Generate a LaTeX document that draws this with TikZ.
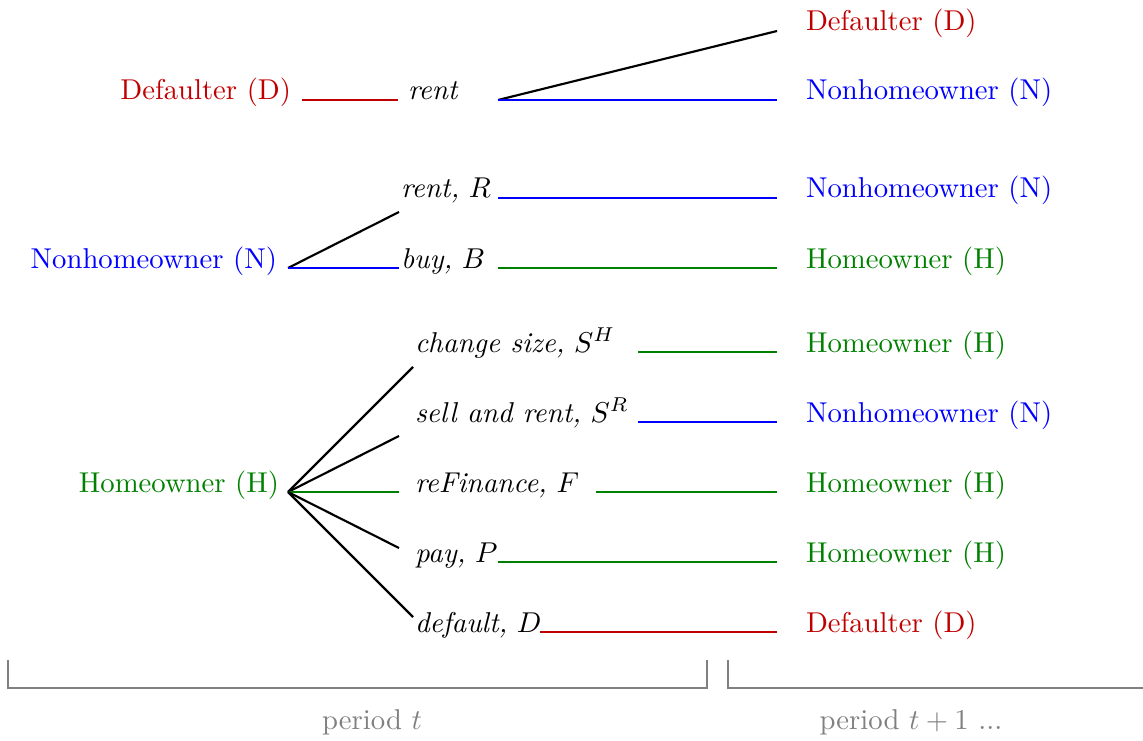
\documentclass[tikz,border=0pt]{standalone}
\definecolor{dred}{RGB}{192,0,0}
\definecolor{dblue}{RGB}{0,0,255}
\definecolor{dgreen}{RGB}{0,128,0}
\definecolor{dgray}{RGB}{128,128,128}
\begin{document}
\begin{tikzpicture}[x=0.3486pt,y=-0.3486pt,
  lbl/.style={inner sep=0pt, outer sep=0pt},
  lw/.style={lbl, anchor=base west},
  le/.style={lbl, anchor=base east},
  lnk/.style={line width=0.75pt},
  brk/.style={line width=0.75pt, dgray},
  per/.style={lbl, anchor=base, text=dgray}]
\useasboundingbox (0,0) rectangle (1143,740);

% ---------- Defaulter row ----------
\node[le, text=dred] (D0) at (291,100) {Defaulter (D)};
\coordinate (D0a) at (302,100);
\coordinate (D0b) at (398,100);
\node[lw] (rent0) at (408,100) {\textit{rent}};
\coordinate (rent0o) at (498,100);
\coordinate (D0e1) at (777,31);
\coordinate (D0e2) at (777,100);
\node[lw, text=dred] (D1a) at (806,31) {Defaulter (D)};
\node[lw, text=dblue] (N1a) at (806,100) {Nonhomeowner (N)};
\draw[lnk, dred] (D0a) -- (D0b);
\draw[lnk] (rent0o) -- (D0e1);
\draw[lnk, dblue] (rent0o) -- (D0e2);

% ---------- Nonhomeowner row ----------
\node[le, text=dblue] (N0) at (277,268) {Nonhomeowner (N)};
\coordinate (N0o) at (288,268);
\coordinate (N0r) at (399,212);
\coordinate (N0b) at (399,268);
\node[lw] (rentR) at (401,198) {\textit{rent,} $R$};
\node[lw] (buyB) at (401,268) {\textit{buy,} $B$};
\coordinate (rentRa) at (498,198);
\coordinate (rentRb) at (777,198);
\coordinate (buyBa) at (498,268);
\coordinate (buyBb) at (777,268);
\node[lw, text=dblue] (N1b) at (806,198) {Nonhomeowner (N)};
\node[lw, text=dgreen] (H1a) at (806,268) {Homeowner (H)};
\draw[lnk] (N0o) -- (N0r);
\draw[lnk, dblue] (N0o) -- (N0b);
\draw[lnk, dblue] (rentRa) -- (rentRb);
\draw[lnk, dgreen] (buyBa) -- (buyBb);

% ---------- Homeowner row ----------
\node[le, text=dgreen] (H0) at (279,492) {Homeowner (H)};
\coordinate (H0o) at (288,492);
\coordinate (H0s) at (413,367);
\coordinate (H0r) at (399,436);
\coordinate (H0f) at (399,492);
\coordinate (H0p) at (399,548);
\coordinate (H0d) at (413,617);
\node[lw] (SH) at (415,352) {\textit{change size,} $S^H$};
\node[lw] (SR) at (415,422) {\textit{sell and rent,} $S^R$};
\node[lw] (FF) at (415,492) {\textit{reFinance,} $F$};
\node[lw] (PP) at (415,562) {\textit{pay,} $P$};
\node[lw] (DD) at (415,632) {\textit{default,} $D$};
\coordinate (SHa) at (638,352); \coordinate (SHb) at (777,352);
\coordinate (SRa) at (638,422); \coordinate (SRb) at (777,422);
\coordinate (FFa) at (596,492); \coordinate (FFb) at (777,492);
\coordinate (PPa) at (498,562); \coordinate (PPb) at (777,562);
\coordinate (DDa) at (540,632); \coordinate (DDb) at (777,632);
\node[lw, text=dgreen] (H1b) at (806,352) {Homeowner (H)};
\node[lw, text=dblue] (N1c) at (806,422) {Nonhomeowner (N)};
\node[lw, text=dgreen] (H1c) at (806,492) {Homeowner (H)};
\node[lw, text=dgreen] (H1d) at (806,562) {Homeowner (H)};
\node[lw, text=dred] (D1b) at (806,632) {Defaulter (D)};
\draw[lnk] (H0o) -- (H0s);
\draw[lnk] (H0o) -- (H0r);
\draw[lnk, dgreen] (H0o) -- (H0f);
\draw[lnk] (H0o) -- (H0p);
\draw[lnk] (H0o) -- (H0d);
\draw[lnk, dgreen] (SHa) -- (SHb);
\draw[lnk, dblue] (SRa) -- (SRb);
\draw[lnk, dgreen] (FFa) -- (FFb);
\draw[lnk, dgreen] (PPa) -- (PPb);
\draw[lnk, dred] (DDa) -- (DDb);

% ---------- period brackets ----------
\coordinate (b1a) at (8,660); \coordinate (b1b) at (8,688);
\coordinate (b1c) at (707,688); \coordinate (b1d) at (707,660);
\coordinate (b2a) at (728,660); \coordinate (b2b) at (728,688);
\coordinate (b2c) at (1143,688);
\draw[brk] (b1a) -- (b1b) -- (b1c) -- (b1d);
\draw[brk] (b2a) -- (b2b) -- (b2c);
\node[per] (pt) at (372,729) {period $t$};
\node[per] (pt1) at (911,729) {period $t+1$ ...};
\end{tikzpicture}
\end{document}
